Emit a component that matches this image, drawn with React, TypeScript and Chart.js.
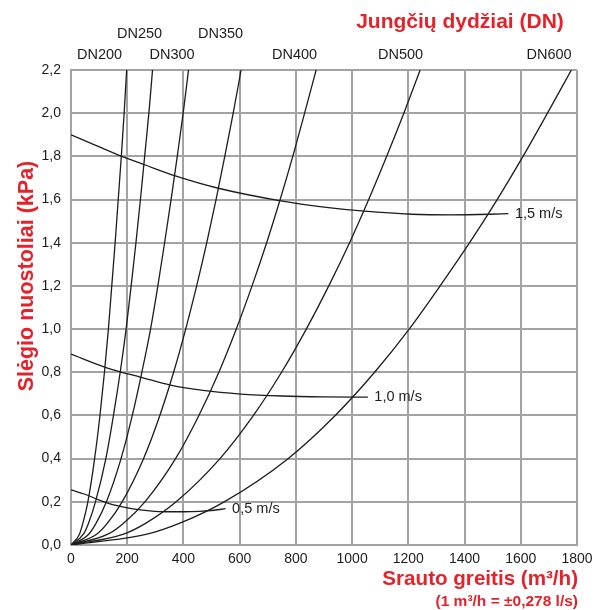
import React, { useEffect, useRef } from 'react';
import { Chart, registerables } from 'chart.js';

Chart.register(...registerables);

// Pressure levels (kPa) at which the DN curves were read
const DP_LEVELS = [0, 0.05, 0.1, 0.2, 0.4, 0.6, 0.8, 1.0, 1.2, 1.4, 1.6, 1.8, 2.0, 2.2];

// Flow (m3/h) of each DN curve at the pressure levels above
const DN200 = [0, 30, 42, 60, 84, 103, 119, 133, 145, 157, 168, 179, 189, 198];
const DN250 = [0, 44, 62, 87, 124, 151, 175, 196, 214, 231, 247, 262, 277, 290];
const DN300 = [0, 63, 89, 126, 178, 218, 252, 283, 309, 333, 356, 378, 399, 418];
const DN350 = [0, 91, 129, 182, 258, 316, 365, 408, 447, 483, 516, 547, 577, 605];
const DN400 = [0, 131, 186, 263, 372, 455, 526, 588, 644, 696, 744, 789, 831, 872];
const DN500 = [0, 187, 265, 374, 530, 649, 749, 837, 917, 991, 1059, 1123, 1184, 1242];
const DN600 = [0, 270, 385, 545, 772, 940, 1080, 1203, 1313, 1418, 1516, 1608, 1695, 1780];

const DN_NAMES = ['DN200', 'DN250', 'DN300', 'DN350', 'DN400', 'DN500', 'DN600'];

// Velocity lines
const V05_Q = [0, 50, 101, 160, 220, 280, 339, 400, 458, 510, 550];
const V05_P = [0.255, 0.235, 0.208, 0.183, 0.167, 0.158, 0.154, 0.154, 0.156, 0.161, 0.168];
const V10_Q = [0, 115, 175, 246, 354, 470, 604, 750, 900, 1056];
const V10_P = [0.884, 0.826, 0.802, 0.778, 0.741, 0.716, 0.699, 0.69, 0.686, 0.685];
const V15_Q = [0, 90, 181, 264, 371, 532, 746, 900, 1044, 1211, 1354, 1490, 1556];
const V15_P = [1.9, 1.85, 1.8, 1.76, 1.71, 1.65, 1.594, 1.565, 1.546, 1.532, 1.529, 1.532, 1.535];
const V_LABELS = ['0,5 m/s', '1,0 m/s', '1,5 m/s'];

const X_MIN = 0, X_MAX = 1800, X_STEP = 200;
const Y_MIN = 0, Y_MAX = 2.2, Y_STEP = 0.2;

const TOP_TITLE = 'Jungčių dydžiai (DN)';
const Y_TITLE = 'Slėgio nuostoliai (kPa)';
const X_TITLE = 'Srauto greitis (m³/h)';
const X_SUBTITLE = '(1 m³/h = ±0,278 l/s)';

const RED = '#e62129';
const INK = '#1d1d1b';
const GRID = '#a3a3a3';
const FONT = '"Liberation Sans", Arial, Helvetica, sans-serif';

const pts = (xs: number[], ys: number[]) => xs.map((x, i) => ({ x, y: ys[i] }));

export default function App() {
  const ref = useRef<HTMLCanvasElement | null>(null);

  useEffect(() => {
    if (!ref.current) return;
    const dnSeries = [DN200, DN250, DN300, DN350, DN400, DN500, DN600];
    const lineStyle = {
      borderColor: INK,
      borderWidth: 1.3,
      pointRadius: 0,
      fill: false,
      cubicInterpolationMode: 'monotone' as const,
    };
    const datasets: any[] = dnSeries.map((q, i) => ({
      label: DN_NAMES[i],
      data: pts(q, DP_LEVELS),
      ...lineStyle,
    }));
    const vStart = datasets.length;
    datasets.push({ label: V_LABELS[0], data: pts(V05_Q, V05_P), ...lineStyle });
    datasets.push({ label: V_LABELS[1], data: pts(V10_Q, V10_P), ...lineStyle });
    datasets.push({ label: V_LABELS[2], data: pts(V15_Q, V15_P), ...lineStyle });

    const textPlugin = {
      id: 'texts',
      afterDraw(chart: any) {
        const ctx = chart.ctx;
        ctx.save();
        ctx.textBaseline = 'middle';
        // top title
        ctx.fillStyle = RED;
        ctx.font = `bold 21px ${FONT}`;
        ctx.textAlign = 'center';
        ctx.fillText(TOP_TITLE, 460, 22);
        // DN labels
        const dnPos = [[99.5, 55], [139.5, 34], [172, 55], [220.5, 34], [294.5, 55], [400.5, 55], [549, 55]];
        ctx.fillStyle = INK;
        ctx.font = `14.5px ${FONT}`;
        DN_NAMES.forEach((n, i) => ctx.fillText(n, dnPos[i][0], dnPos[i][1]));
        // velocity labels at line ends
        ctx.textAlign = 'left';
        V_LABELS.forEach((lab, i) => {
          const meta = chart.getDatasetMeta(vStart + i);
          const last = meta.data[meta.data.length - 1];
          ctx.fillText(lab, last.x + 6.5, last.y);
        });
        // x title
        ctx.fillStyle = RED;
        ctx.textAlign = 'right';
        ctx.font = `bold 20.6px ${FONT}`;
        ctx.fillText(X_TITLE, 578, 579);
        ctx.font = `bold 15.5px ${FONT}`;
        ctx.fillText(X_SUBTITLE, 578, 602);
        // y title
        ctx.translate(27, 276);
        ctx.rotate(-Math.PI / 2);
        ctx.textAlign = 'center';
        ctx.font = `bold 21.5px ${FONT}`;
        ctx.fillText(Y_TITLE, 0, 0);
        ctx.restore();
      },
    };

    const chart = new Chart(ref.current, {
      type: 'line',
      data: { datasets },
      options: {
        animation: false,
        responsive: false,
        maintainAspectRatio: false,
        layout: { padding: { top: 70, right: 19, left: 0, bottom: 0 } },
        plugins: { legend: { display: false }, tooltip: { enabled: false } },
        scales: {
          x: {
            type: 'linear',
            min: X_MIN,
            max: X_MAX,
            afterFit: (s: any) => { s.height = 65; s.paddingLeft = 0; s.paddingRight = 0; },
            ticks: {
              stepSize: X_STEP,
              color: INK,
              font: { size: 14, family: FONT },
              padding: 6,
              maxRotation: 0,
              callback: (v: any) => String(v),
            },
            grid: { color: GRID, lineWidth: 2, drawTicks: false },
            border: { color: GRID, width: 2 },
          },
          y: {
            type: 'linear',
            min: Y_MIN,
            max: Y_MAX,
            afterFit: (s: any) => { s.width = 71; s.paddingTop = 0; s.paddingBottom = 0; },
            ticks: {
              stepSize: Y_STEP,
              color: INK,
              font: { size: 14, family: FONT },
              padding: 10,
              callback: (v: any) => Number(v).toFixed(1).replace('.', ','),
            },
            grid: { color: GRID, lineWidth: 2, drawTicks: false },
            border: { color: GRID, width: 2 },
          },
        },
      },
      plugins: [textPlugin],
    });
    return () => chart.destroy();
  }, []);

  return (
    <div style={{ position: 'absolute', left: 0, top: 0, width: 596, height: 610, background: '#fff' }}>
      <canvas ref={ref} width={596} height={610} style={{ display: 'block' }} />
    </div>
  );
}
